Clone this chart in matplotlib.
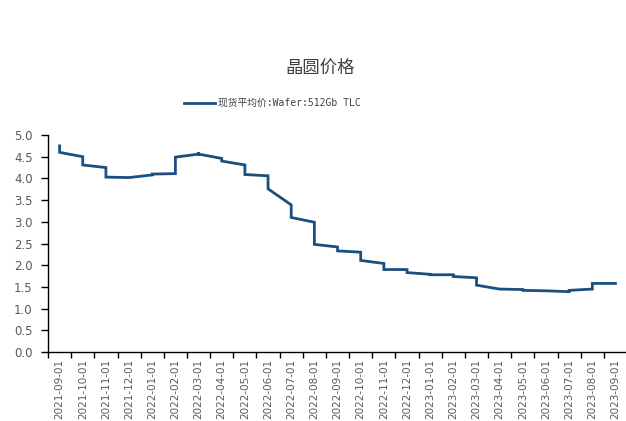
import matplotlib
matplotlib.use("Agg")
import matplotlib.pyplot as plt
from matplotlib.ticker import FixedLocator, MultipleLocator

plt.rcParams['font.family'] = ['Noto Sans CJK SC', 'DejaVu Sans']

# 月份标签
months = ["2021-09-01", "2021-10-01", "2021-11-01", "2021-12-01", "2022-01-01",
          "2022-02-01", "2022-03-01", "2022-04-01", "2022-05-01", "2022-06-01",
          "2022-07-01", "2022-08-01", "2022-09-01", "2022-10-01", "2022-11-01",
          "2022-12-01", "2023-01-01", "2023-02-01", "2023-03-01", "2023-04-01",
          "2023-05-01", "2023-06-01", "2023-07-01", "2023-08-01", "2023-09-01"]

# 每月月初与月末的价格
month_start = [4.60, 4.31, 4.03, 4.02, 4.10, 4.49, 4.56, 4.40, 4.09, 3.76, 3.10, 2.48,
               2.33, 2.11, 1.90, 1.83, 1.78, 1.74, 1.54, 1.45, 1.42, 1.41, 1.42, 1.58]
month_end = [4.50, 4.25, 4.02, 4.08, 4.11, 4.56, 4.46, 4.31, 4.06, 3.39, 2.99, 2.42,
             2.30, 2.04, 1.90, 1.79, 1.78, 1.71, 1.45, 1.44, 1.41, 1.39, 1.45, 1.58]
# 月初的瞬时尖峰
spikes = {0: 4.75, 6: 4.60}

series_name = "现货平均价:Wafer:512Gb TLC"

xs, ys = [], []
for i in range(len(month_start)):
    if i in spikes:
        xs.append(i)
        ys.append(spikes[i])
    xs += [i, i + 1]
    ys += [month_start[i], month_end[i]]

fig = plt.figure(figsize=(6.26, 4.21), dpi=100)
ax = fig.add_axes([0.0767, 0.1639, 0.925, 0.5154])

line_color = "#1B4F7D"
ax.plot(xs, ys, color=line_color, lw=2.0, solid_joinstyle="miter",
        label=series_name)

ax.set_xlim(-0.5, len(months) - 0.5)
ax.set_ylim(0, 5)
ax.yaxis.set_major_locator(MultipleLocator(0.5))
ax.set_yticklabels([f"{v:.1f}" for v in ax.get_yticks()])

# 类别轴：标签居中，刻度在边界
ax.set_xticks(range(len(months)))
ax.set_xticklabels(months, rotation=90, fontsize=7.5, color="#595959",
                   family="DejaVu Sans")
ax.xaxis.set_minor_locator(FixedLocator([i - 0.5 for i in range(len(months) + 1)]))
ax.tick_params(axis="x", which="major", length=0, pad=5)
ax.tick_params(axis="x", which="minor", length=4, width=1, color="black",
               direction="out")
ax.tick_params(axis="y", length=5, width=1, direction="out", labelsize=8.5,
               labelcolor="#595959", pad=6)
for lab in ax.get_yticklabels():
    lab.set_family("DejaVu Sans")

for s in ["top", "right"]:
    ax.spines[s].set_visible(False)
for s in ["left", "bottom"]:
    ax.spines[s].set_color("black")
    ax.spines[s].set_linewidth(1.0)

fig.text(0.512, 0.84, "晶圆价格", ha="center", va="center", fontsize=12.5,
         color="#404040")

leg = ax.legend(loc="center", bbox_to_anchor=(0.435, 0.755),
                bbox_transform=fig.transFigure, frameon=False,
                handlelength=3.2, handletextpad=0.3,
                prop={"family": ["DejaVu Sans Mono", "Noto Sans CJK SC"], "size": 7.0})
for t in leg.get_texts():
    t.set_color("#404040")

fig.savefig("out.png", dpi=100)
